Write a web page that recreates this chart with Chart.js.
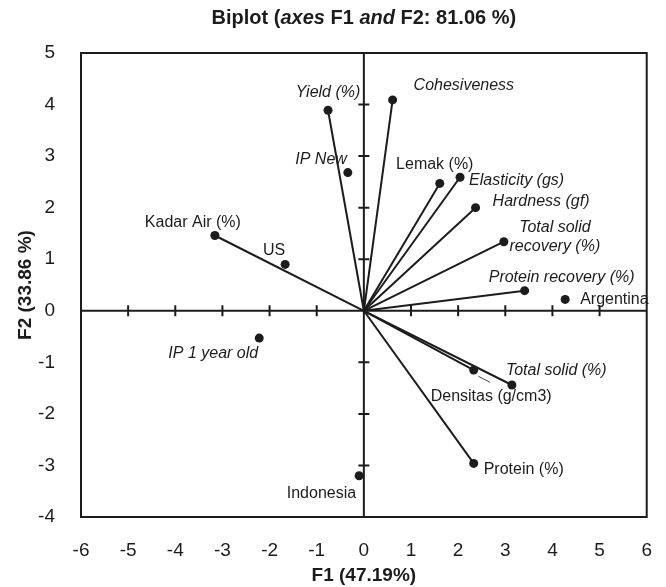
<!DOCTYPE html>
<html>
<head>
<meta charset="utf-8">
<script src="https://cdn.jsdelivr.net/npm/chart.js@4"></script>
<style>
  html, body { margin: 0; padding: 0; background: #fff; }
  #wrap { width: 666px; height: 587px; }
</style>
</head>
<body>
<div id="wrap"><canvas id="chart-biplot"></canvas></div>
<script>
const font_family = '"Liberation Sans", Arial, sans-serif'
const ink = '#1c1c1c'

// variables (drawn as vectors from the origin)
const var_names = [
    'Yield (%)', 'Cohesiveness', 'Lemak (%)', 'Elasticity (gs)', 'Hardness (gf)',
    'Total solid recovery (%)', 'Protein recovery (%)', 'Kadar Air (%)',
    'Total solid (%)', 'Densitas (g/cm3)', 'Protein (%)'
]
const var_f1 = [-0.76, 0.61, 1.61, 2.04, 2.37, 2.97, 3.41, -3.16, 3.14, 2.33, 2.33]
const var_f2 = [3.89, 4.09, 2.47, 2.59, 2.00, 1.34, 0.39, 1.46, -1.44, -1.15, -2.96]

// observations (plain points)
const obs_names = ['IP New', 'Argentina', 'US', 'IP 1 year old', 'Indonesia']
const obs_f1 = [-0.34, 4.27, -1.67, -2.22, -0.10]
const obs_f2 = [2.68, 0.22, 0.90, -0.53, -3.20]

// short leader line next to the Densitas label
const leader_f1 = [2.43, 2.68]
const leader_f2 = [-1.27, -1.39]

const x_ticks = [-6, -5, -4, -3, -2, -1, 0, 1, 2, 3, 4, 5, 6]
const y_ticks = [-4, -3, -2, -1, 0, 1, 2, 3, 4, 5]

// where each label sits relative to its dot (pixels)
const label_style = {
    'Yield (%)': { dx: 0, dy: -18, align: 'center', italic: true },
    'Cohesiveness': { dx: 21, dy: -14, align: 'left', italic: true },
    'Lemak (%)': { dx: -5, dy: -19, align: 'center', italic: false },
    'Elasticity (gs)': { dx: 9, dy: 3, align: 'left', italic: true },
    'Hardness (gf)': { dx: 17, dy: -6, align: 'left', italic: true },
    'Total solid recovery (%)': { dx: 51, dy: -14, align: 'center', italic: true, lines: ['Total solid', 'recovery (%)'] },
    'Protein recovery (%)': { dx: 37, dy: -13, align: 'center', italic: true },
    'Kadar Air (%)': { dx: 26, dy: -13, align: 'right', italic: false },
    'Total solid (%)': { dx: -6, dy: -14, align: 'left', italic: true },
    'Densitas (g/cm3)': { dx: -43, dy: 27, align: 'left', italic: false },
    'Protein (%)': { dx: 10, dy: 6, align: 'left', italic: false },
    'IP New': { dx: -1, dy: -13, align: 'right', italic: true },
    'Argentina': { dx: 15, dy: 0, align: 'left', italic: false },
    'US': { dx: -11, dy: -14, align: 'center', italic: false },
    'IP 1 year old': { dx: -1, dy: 15, align: 'right', italic: true },
    'Indonesia': { dx: -3, dy: 18, align: 'right', italic: false }
}

const datasets = []
var_names.forEach((name, i) => {
    datasets.push({
        label: name,
        data: [{ x: 0, y: 0 }, { x: var_f1[i], y: var_f2[i] }],
        showLine: true,
        borderColor: ink,
        backgroundColor: ink,
        borderWidth: 2,
        pointRadius: [0, 4.5],
        pointBorderWidth: 0
    })
})
datasets.push({
    label: 'leader',
    data: leader_f1.map((v, i) => ({ x: v, y: leader_f2[i] })),
    showLine: true,
    borderColor: ink,
    borderWidth: 0.8,
    pointRadius: 0
})
datasets.push({
    label: 'observations',
    data: obs_f1.map((v, i) => ({ x: v, y: obs_f2[i] })),
    showLine: false,
    backgroundColor: ink,
    borderColor: ink,
    pointRadius: 4.5,
    pointBorderWidth: 0
})

// frame, zero axes with their crossing ticks
const axes_plugin = {
    id: 'axes_plugin',
    beforeDatasetsDraw(chart) {
        const { ctx, chartArea: a, scales: { x, y } } = chart
        const x0 = x.getPixelForValue(0)
        const y0 = y.getPixelForValue(0)
        ctx.save()
        ctx.strokeStyle = ink
        ctx.lineWidth = 2
        ctx.beginPath()
        ctx.moveTo(x0, a.top); ctx.lineTo(x0, a.bottom)
        ctx.moveTo(a.left, y0); ctx.lineTo(a.right, y0)
        x_ticks.forEach(v => {
            if (v === 0 || v === x.min || v === x.max) return
            const px = x.getPixelForValue(v)
            ctx.moveTo(px, y0 - 5.5); ctx.lineTo(px, y0 + 5.5)
        })
        y_ticks.forEach(v => {
            if (v === 0 || v === y.min || v === y.max) return
            const py = y.getPixelForValue(v)
            ctx.moveTo(x0 - 5.5, py); ctx.lineTo(x0 + 5.5, py)
        })
        ctx.stroke()
        ctx.strokeRect(a.left, a.top, a.right - a.left, a.bottom - a.top)
        ctx.restore()
    }
}

// point labels and the mixed-style title
const text_plugin = {
    id: 'text_plugin',
    afterDatasetsDraw(chart) {
        const { ctx, chartArea: a, scales: { x, y } } = chart
        ctx.save()
        ctx.fillStyle = ink
        ctx.textBaseline = 'middle'
        const draw_label = (name, f1, f2) => {
            const s = label_style[name]
            const px = x.getPixelForValue(f1) + s.dx
            const py = y.getPixelForValue(f2) + s.dy
            ctx.font = (s.italic ? 'italic ' : '') + '16px ' + font_family
            ctx.textAlign = s.align
            const lines = s.lines || [name]
            lines.forEach((t, k) => ctx.fillText(t, px, py + k * 19))
        }
        var_names.forEach((n, i) => draw_label(n, var_f1[i], var_f2[i]))
        obs_names.forEach((n, i) => draw_label(n, obs_f1[i], obs_f2[i]))

        const parts = [
            ['Biplot (', false], ['axes', true], [' F1 ', false], ['and', true], [' F2: 81.06 %)', false]
        ]
        const font_of = it => (it ? 'italic ' : '') + 'bold 20px ' + font_family
        let total = 0
        parts.forEach(p => { ctx.font = font_of(p[1]); total += ctx.measureText(p[0]).width })
        let tx = (a.left + a.right) / 2 - total / 2
        ctx.textAlign = 'left'
        parts.forEach(p => {
            ctx.font = font_of(p[1])
            ctx.fillText(p[0], tx, 18)
            tx += ctx.measureText(p[0]).width
        })
        ctx.restore()
    }
}

const chart = new Chart('chart-biplot', {
    type: 'scatter',
    data: { datasets: datasets },
    options: {
        responsive: true,
        maintainAspectRatio: false,
        animation: false,
        layout: { padding: { top: 53, right: 16, left: 0, bottom: 0 } },
        plugins: {
            legend: { display: false },
            tooltip: { enabled: false },
            title: { display: false }
        },
        scales: {
            x: {
                type: 'linear',
                min: -6,
                max: 6,
                afterFit: s => { s.height = 70 },
                afterBuildTicks: s => { s.ticks = x_ticks.map(v => ({ value: v })) },
                grid: { display: false },
                border: { display: false },
                ticks: {
                    padding: 14,
                    color: ink,
                    font: { size: 19, family: font_family },
                    maxRotation: 0
                },
                title: {
                    display: true,
                    text: 'F1 (47.19%)',
                    color: ink,
                    padding: { top: 0, bottom: 0 },
                    font: { size: 19, weight: 'bold', family: font_family }
                }
            },
            y: {
                type: 'linear',
                min: -4,
                max: 5,
                afterFit: s => { s.width = 81 },
                afterBuildTicks: s => { s.ticks = y_ticks.map(v => ({ value: v })) },
                grid: { display: false },
                border: { display: false },
                ticks: {
                    padding: 18,
                    color: ink,
                    font: { size: 19, family: font_family }
                },
                title: {
                    display: true,
                    text: 'F2 (33.86 %)',
                    color: ink,
                    padding: { top: 14, bottom: 0 },
                    font: { size: 19, weight: 'bold', family: font_family }
                }
            }
        }
    },
    plugins: [axes_plugin, text_plugin]
})
</script>
</body>
</html>
